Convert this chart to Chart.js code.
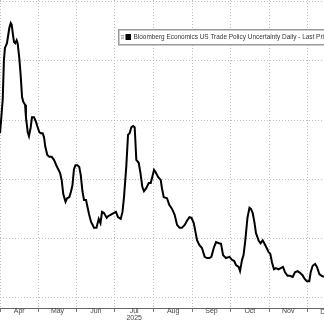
<!DOCTYPE html>
<html>
<head>
<meta charset="utf-8">
<script src="https://cdn.jsdelivr.net/npm/chart.js@4"></script>
<style>
  html, body { margin: 0; padding: 0; background: #fff; }
  #wrap { width: 324px; height: 323px; }
</style>
</head>
<body>
<div id="wrap"><canvas id="myChart" width="324" height="323"></canvas></div>
<script>
// days counted from 1 Apr 2025
const days = [
  -0.2, 1.9, 2.9, 3.7, 5.3, 7.2, 8.3, 9.1, 9.9, 10.9, 11.9, 13.0, 13.8, 15.1, 16.2, 17.3, 18.3, 19.7, 20.4, 21.8,
  22.8, 24.2, 25.2, 26.8, 28.4, 29.4, 31.0, 32.1, 33.7, 34.8, 35.8, 37.4, 39.0, 40.9, 42.7, 44.9, 47.5, 48.8, 50.1, 51.9,
  53.1, 54.9, 56.2, 57.4, 58.6, 59.8, 61.3, 62.8, 64.0, 65.4, 66.6, 68.2, 69.2, 70.6, 72.2, 73.5, 74.5, 76.5, 78.3, 79.7,
  80.9, 82.5, 84.6, 85.9, 87.7, 90.1, 92.0, 93.6, 95.8, 97.2, 98.4, 100.2, 101.6, 102.9, 104.2, 105.6, 106.9, 108.2, 110.1, 111.4,
  113.0, 114.3, 116.1, 118.1, 119.7, 120.9, 122.3, 123.6, 125.5, 127.6, 128.6, 130.0, 132.6, 134.4, 136.6, 138.7, 140.6, 142.6, 144.5, 146.7,
  148.5, 150.5, 152.1, 153.9, 155.1, 156.5, 158.3, 160.4, 162.6, 164.4, 166.3, 167.9, 169.8, 171.6, 174.0, 175.6, 177.2, 179.5, 182.3, 184.3,
  186.1, 187.5, 189.6, 190.7, 192.3, 193.5, 194.9, 196.6, 198.2, 199.4, 200.8, 202.1, 203.4, 205.6, 207.0, 208.7, 210.2, 211.9, 213.5, 214.8,
  216.1, 217.7, 219.3, 221.3, 223.1, 224.9, 226.5, 228.5, 230.5, 232.6, 234.4, 236.4, 238.4, 240.4, 242.0, 243.8, 245.8, 246.9, 248.5, 250.4,
  251.9, 253.8, 255.7, 257.5
];
const values = [
  3.78, 4.34, 5.02, 5.22, 5.30, 5.56, 5.64, 5.61, 5.47, 5.32, 5.30, 5.35, 5.30, 5.05, 4.76, 4.39, 4.31, 4.26, 4.05, 3.80,
  3.73, 3.88, 4.05, 4.05, 3.97, 3.90, 3.80, 3.78, 3.78, 3.71, 3.55, 3.41, 3.38, 3.38, 3.33, 3.22, 3.11, 2.99, 2.75, 2.62,
  2.68, 2.70, 2.79, 2.90, 3.17, 3.24, 3.24, 3.21, 3.07, 2.79, 2.65, 2.65, 2.55, 2.41, 2.28, 2.23, 2.18, 2.18, 2.33, 2.26,
  2.45, 2.43, 2.35, 2.38, 2.40, 2.43, 2.45, 2.36, 2.33, 2.45, 2.70, 3.21, 3.75, 3.78, 3.88, 3.90, 3.88, 3.33, 3.28, 3.12,
  2.87, 2.80, 2.85, 2.94, 2.94, 3.04, 3.16, 3.12, 3.04, 2.99, 2.85, 2.70, 2.68, 2.57, 2.50, 2.40, 2.23, 2.18, 2.18, 2.23,
  2.30, 2.36, 2.35, 2.26, 2.13, 1.97, 1.89, 1.84, 1.69, 1.67, 1.67, 1.69, 1.84, 1.94, 1.92, 1.91, 1.72, 1.67, 1.69, 1.64,
  1.62, 1.55, 1.52, 1.45, 1.64, 1.72, 1.97, 2.35, 2.52, 2.50, 2.43, 2.28, 2.09, 1.96, 1.92, 1.97, 1.91, 1.84, 1.77, 1.74,
  1.60, 1.48, 1.50, 1.48, 1.50, 1.52, 1.43, 1.37, 1.37, 1.35, 1.43, 1.45, 1.42, 1.38, 1.32, 1.28, 1.28, 1.43, 1.54, 1.57,
  1.52, 1.40, 1.37, 1.35
];
const monthStarts = [0, 30, 61, 91, 122, 153, 183, 214, 244, 275];
const monthNames = ['Apr', 'May', 'Jun', 'Jul', 'Aug', 'Sep', 'Oct', 'Nov', 'Dec'];
const yearLabel = '2025';
const yGrid = [1, 2, 3, 4, 5, 6];
const seriesLabel = 'Bloomberg Economics US Trade Policy Uncertainty Daily - Last Price';

const points = days.map((d, i) => ({ x: d, y: values[i] }));
const boundaries = monthStarts.slice(0, 9);
const mids = monthNames.map((m, i) => (monthStarts[i] + monthStarts[i + 1]) / 2);
const isBoundary = v => boundaries.includes(v);
const gridGray = '#bdbdbd';
const labelFont = '"Liberation Sans", Arial, sans-serif';

// legend box drawn over the plot, plus the cut-off Dec label at the right edge
const extras = {
  id: 'extras',
  afterDraw(chart) {
    const ctx = chart.ctx;
    const xs = chart.scales.x;
    ctx.save();
    ctx.font = '7px ' + labelFont;
    ctx.fillStyle = '#444';
    ctx.textAlign = 'center';
    ctx.textBaseline = 'middle';
    ctx.fillText(monthNames[8], xs.getPixelForValue(mids[8]), xs.top + 4);

    // legend
    ctx.fillStyle = '#fff';
    ctx.fillRect(118, 29, 220, 16);
    ctx.strokeStyle = '#9a9a9a';
    ctx.lineWidth = 1.5;
    ctx.strokeRect(118.75, 29.75, 220, 15);
    ctx.strokeStyle = '#aaa';
    ctx.lineWidth = 1;
    for (let k = 0; k < 3; k++) {
      ctx.beginPath();
      ctx.moveTo(121, 35.5 + k * 1.6);
      ctx.lineTo(124, 35.5 + k * 1.6);
      ctx.stroke();
    }
    ctx.fillStyle = '#000';
    ctx.fillRect(125.5, 34, 5.5, 6);
    ctx.font = '6.45px ' + labelFont;
    ctx.fillStyle = '#333';
    ctx.textAlign = 'left';
    ctx.textBaseline = 'middle';
    ctx.fillText(chart.data.datasets[0].label, 133.5, 37.5);
    ctx.restore();
  }
};

const ctx = document.getElementById('myChart').getContext('2d');
const myChart = new Chart(ctx, {
  type: 'line',
  data: {
    datasets: [{
      label: seriesLabel,
      data: points,
      borderColor: '#000',
      borderWidth: 2,
      pointRadius: 0,
      tension: 0,
      fill: false
    }]
  },
  options: {
    responsive: false,
    animation: false,
    layout: { padding: 0 },
    plugins: {
      legend: { display: false },
      tooltip: { enabled: false }
    },
    scales: {
      x: {
        type: 'linear',
        min: -0.24,
        max: 257.5,
        afterBuildTicks: scale => {
          scale.ticks = boundaries.concat(mids.slice(0, 8)).sort((a, b) => a - b).map(v => ({ value: v }));
        },
        afterFit: scale => { scale.height = 15; },
        grid: {
          color: c => (c.tick && isBoundary(c.tick.value)) ? gridGray : 'rgba(0,0,0,0)',
          tickColor: c => (c.tick && isBoundary(c.tick.value)) ? '#777' : 'rgba(0,0,0,0)',
          lineWidth: 1,
          drawTicks: true,
          tickLength: 4
        },
        border: { display: true, color: '#666', width: 1, dash: [1, 2] },
        ticks: {
          autoSkip: false,
          maxRotation: 0,
          padding: -4,
          color: '#444',
          font: { family: labelFont, size: 7, lineHeight: 1 },
          callback: v => {
            const i = mids.indexOf(v);
            if (i < 0) return '';
            return monthNames[i] === 'Jul' ? [monthNames[i], yearLabel] : monthNames[i];
          }
        }
      },
      y: {
        min: 0.826,
        max: 6.03,
        afterBuildTicks: scale => {
          scale.ticks = yGrid.map(v => ({ value: v }));
        },
        grid: { color: gridGray, lineWidth: 1, drawTicks: false },
        border: { display: false, dash: [1, 2] },
        ticks: { display: false }
      }
    }
  },
  plugins: [extras]
});
</script>
</body>
</html>
